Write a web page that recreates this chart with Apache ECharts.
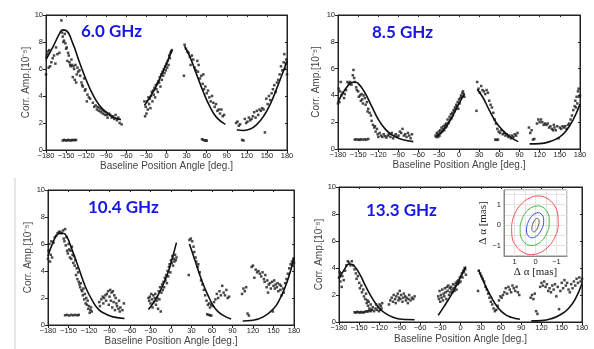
<!DOCTYPE html>
<html>
<head>
<meta charset="utf-8">
<script src="https://cdn.jsdelivr.net/npm/echarts@6/dist/echarts.min.js"></script>
<style>
  html, body { margin: 0; padding: 0; background: #fff; }
  #chart { width: 594px; height: 349px; }
</style>
</head>
<body>
<div id="chart"></div>
<script>
// panel labels and axis ticks
const freqLabels = ['6.0 GHz', '8.5 GHz', '10.4 GHz', '13.3 GHz'];
const angleTicks = [-180, -150, -120, -90, -60, -30, 0, 30, 60, 90, 120, 150, 180];
const ampTicks = [0, 2, 4, 6, 8, 10];
const insetTicks = [-1, 0, 1];

// observed correlated amplitude, [angle, amp]
const obs60 = [
  [-180,5.6],[-179,6.9],[-178,7.1],[-177,7.3],[-176,6.1],[-175,7.4],[-174,6.2],[-172,6.5],[-170,6.8],[-168,7.0],[-166,6.4],[-165,7.6],[-163,7.1],[-160,7.2],
  [-157,9.6],[-156,8.7],[-155,8.4],[-154,8.0],[-153,8.1],[-152,8.6],[-151,7.9],[-150,7.5],[-149,7.6],[-148,6.6],[-147,7.2],[-146,7.0],[-145,6.5],[-144,6.3],
  [-143,6.2],[-142,6.7],[-141,6.3],[-140,5.4],[-139,6.2],[-138,6.0],[-137,5.2],[-136,6.3],[-135,5.0],[-134,5.6],[-133,6.1],[-132,5.8],[-130,5.9],[-129,5.5],
  [-127,5.0],[-126,4.8],[-125,4.7],[-123,5.3],[-122,4.4],[-121,4.5],[-119,3.6],[-118,4.1],[-116,3.9],[-114,3.8],[-110,3.5],[-108,3.2],[-106,3.3],[-104,3.0],
  [-103,3.2],[-101,2.9],[-100,3.1],[-98,2.8],[-97,3.0],[-95,2.7],[-94,2.9],[-92,2.6],[-91,2.8],[-89,2.6],[-88,2.4],[-86,2.7],[-84,2.6],[-82,2.4],[-80,2.5],
  [-78,2.3],[-76,2.6],[-74,2.2],[-72,2.4],[-70,2.0],[-67,1.9],
  [-155,0.7],[-153,0.75],[-151,0.72],[-149,0.7],[-147,0.75],[-145,0.72],[-143,0.7],[-141,0.75],[-139,0.72],[-137,0.75],[-135,0.74],
  [-33,3.6],[-32,2.5],[-31,3.2],[-30,2.7],[-29,3.6],[-28,3.0],[-27,3.9],[-26,3.4],[-25,3.8],[-24,3.1],[-23,4.0],[-22,4.3],[-21,3.6],[-20,4.4],[-19,4.1],
  [-18,4.6],[-17,3.9],[-16,4.8],[-15,4.5],[-14,4.9],[-13,4.3],[-12,5.1],[-11,5.0],[-10,5.4],[-9,4.7],[-8,5.6],[-7,5.2],[-6,5.8],[-5,5.5],[-4,6.0],[-3,5.7],
  [-2,6.2],[-1,5.9],[0,6.4],[1,6.1],[2,6.6],[3,6.3],[4,7.0],[5,6.8],[6,7.2],[7,7.3],[8,7.4],
  [26,5.5],[27,7.8],[29,7.5],[31,7.3],[33,7.2],[35,6.9],[36,6.3],[38,7.0],[40,6.7],[42,6.1],[44,5.9],[46,6.6],[47,5.8],[48,6.3],[50,5.3],[52,5.5],[54,4.9],
  [55,5.6],[56,4.5],[58,4.7],[60,4.2],[62,4.4],[64,3.9],[66,3.6],[68,4.0],[70,3.5],[72,3.2],[74,3.4],[76,2.9],[78,3.0],[80,2.7],[82,3.0],[84,2.5],[86,2.6],
  [53,0.8],[55,0.75],[57,0.7],[59,0.72],[60,0.68],
  [104,2.0],[106,2.1],[108,1.8],[110,1.9],[113,0.75],[115,0.7],[117,2.3],[119,2.0],[121,2.1],[123,2.4],[125,2.2],[127,2.3],[129,2.5],[131,2.8],[133,2.4],
  [135,2.9],[137,2.6],[139,3.0],[141,2.9],[143,3.1],[145,3.0],[147,1.3],[149,3.8],[151,3.4],[153,4.0],[155,3.7],[157,4.2],[159,4.5],[161,4.8],[163,4.3],
  [165,5.0],[167,5.2],[169,5.6],[171,6.2],[173,5.9],[175,6.5],[176,7.1],[177,6.0],[178,6.4],[179,6.7],[180,5.6]
];
const obs85 = [
  [-180,3.4],[-179,4.5],[-178,3.5],[-177,4.3],[-176,5.0],[-175,4.0],[-173,4.2],[-171,3.8],[-170,4.1],[-168,4.4],[-166,5.0],[-164,4.9],[-162,5.0],[-160,4.8],
  [-158,5.5],[-157,5.9],[-156,5.3],[-155,5.0],[-153,4.6],[-152,4.4],[-150,4.3],[-149,3.9],[-147,4.0],[-146,3.6],[-145,4.1],[-144,3.7],[-143,3.4],[-142,4.0],
  [-140,3.8],[-139,3.3],[-137,3.5],[-136,2.8],[-135,3.0],[-133,2.7],[-131,2.5],[-130,2.1],[-128,1.8],[-126,1.6],[-125,1.7],[-124,1.3],[-122,1.5],[-121,1.1],
  [-120,0.9],[-118,1.2],[-116,1.0],[-114,0.9],[-112,1.1],[-110,0.95],[-108,0.85],[-106,1.0],[-104,1.1],[-102,0.9],[-100,1.2],[-98,0.8],[-96,1.0],[-94,1.1],
  [-92,0.9],[-90,1.0],[-88,1.3],[-86,1.2],[-84,1.5],[-82,1.0],[-80,1.1],[-78,0.9],[-76,1.2],[-74,1.0],[-72,0.8],[-70,1.1],
  [-155,0.7],[-153,0.72],[-150,0.7],[-148,0.68],[-146,0.72],[-143,0.7],[-140,0.72],[-138,0.7],[-135,0.75],
  [-35,1.0],[-34,0.9],[-33,1.2],[-32,1.1],[-31,0.9],[-30,1.3],[-29,1.0],[-28,1.4],[-27,1.2],[-26,1.6],[-25,1.3],[-24,1.5],[-23,1.7],[-22,1.4],[-21,1.8],
  [-20,1.6],[-19,1.9],[-18,1.7],[-17,2.2],[-16,1.9],[-15,2.0],[-14,2.4],[-13,2.2],[-12,2.6],[-11,2.3],[-10,2.7],[-9,2.5],[-8,2.9],[-7,2.8],[-6,3.1],[-5,3.0],
  [-4,3.3],[-3,3.2],[-2,3.5],[-1,3.0],[0,3.7],[1,3.4],[2,3.8],[3,4.0],[4,3.9],[5,4.2],[6,4.3],[7,4.1],[8,3.9],
  [26,2.85],[27,5.0],[29,4.5],[31,4.2],[33,4.7],[35,4.4],[37,4.3],[39,4.1],[41,4.4],[43,4.2],[45,3.6],[47,3.3],[49,3.1],[51,2.7],[53,2.2],[55,1.9],[57,1.5],
  [59,1.3],[61,1.2],[63,1.4],[65,1.1],[67,1.2],[69,1.0],[71,1.1],[73,0.9],[75,1.0],[77,0.8],[79,1.0],[81,0.9],[83,1.1],[85,1.0],[87,1.2],
  [54,0.7],[56,0.68],[58,0.7],
  [104,1.6],[106,1.2],[108,1.4],[110,0.7],[112,0.75],[116,1.9],[118,2.2],[120,2.0],[122,2.2],[124,2.0],[126,1.8],[128,1.9],[130,1.8],[132,1.9],[134,1.6],
  [136,1.7],[138,1.5],[140,1.4],[141,1.8],[142,1.6],[144,1.4],[146,1.7],[148,0.8],[150,1.6],[152,1.5],[154,1.7],[156,1.6],[158,1.7],[160,1.5],[162,1.8],
  [164,1.9],[166,2.2],[168,2.5],[170,2.9],[172,3.2],[173,3.6],[174,3.1],[175,3.9],[176,3.4],[177,4.3],[178,4.5],[179,3.9],[180,4.0]
];
const obs104 = [
  [-180,4.9],[-179,5.5],[-178,6.0],[-177,4.7],[-176,5.2],[-175,6.2],[-174,5.0],[-172,6.1],[-170,6.5],[-168,6.6],[-166,6.8],[-164,6.9],[-162,6.9],[-160,6.8],
  [-158,7.0],[-157,6.4],[-156,6.2],[-155,7.1],[-154,5.9],[-153,6.5],[-152,5.5],[-151,5.3],[-150,6.0],[-149,5.6],[-148,5.0],[-147,5.5],[-146,4.9],[-145,5.8],
  [-144,5.2],[-143,4.6],[-142,5.1],[-141,4.4],[-140,4.8],[-139,3.7],[-138,4.2],[-137,3.4],[-136,3.9],[-135,3.2],[-134,3.0],[-133,2.8],[-132,3.1],[-131,2.6],
  [-130,2.5],[-129,2.2],[-128,2.7],[-127,1.9],[-126,2.3],[-125,1.6],[-124,2.0],[-123,1.5],[-122,1.8],[-121,1.2],[-120,1.4],[-119,0.9],[-118,1.1],[-117,1.3],
  [-116,1.0],
  [-155,0.72],[-152,0.75],[-149,0.7],[-146,0.75],[-143,0.72],[-140,0.75],[-137,0.72],[-135,0.75],
  [-105,1.7],[-104,1.4],[-102,1.9],[-100,2.1],[-99,1.6],[-98,2.0],[-96,2.2],[-95,1.8],[-94,2.3],[-92,2.5],[-91,1.5],[-90,2.1],[-89,2.6],[-88,1.8],[-87,2.4],
  [-86,1.3],[-85,2.5],[-84,1.7],[-83,2.2],[-82,1.1],[-81,2.0],[-80,1.6],[-79,1.4],[-77,1.2],[-76,1.8],[-75,1.0],[-74,1.3],[-71,1.1],[-69,1.6],
  [-33,2.0],[-32,1.8],[-31,2.1],[-30,1.6],[-29,2.3],[-28,1.9],[-27,1.3],[-26,2.2],[-25,1.7],[-24,2.0],[-23,2.3],[-22,1.5],[-21,1.8],[-20,2.0],[-19,1.2],
  [-18,2.5],[-17,1.9],[-16,2.8],[-15,1.0],[-14,2.4],[-13,3.0],[-12,2.6],[-11,3.2],[-10,2.8],[-9,3.5],[-8,3.3],[-7,3.7],[-6,3.1],[-5,4.0],[-4,3.6],[-3,4.3],
  [-2,4.5],[-1,3.9],[0,4.8],[1,4.6],[2,5.1],[3,4.4],[4,4.9],[5,4.7],[6,5.2],[7,4.8],[8,5.0],
  [26,3.7],[27,6.3],[29,6.4],[31,6.2],[33,5.8],[34,5.4],[36,5.0],[37,4.7],[39,4.3],[40,4.5],[42,3.9],[44,3.3],[46,3.0],[48,2.6],[50,2.2],[52,1.8],[54,1.5],
  [56,1.6],[57,1.3],[59,1.5],[61,1.4],[63,1.7],[65,1.9],[67,2.3],[69,2.0],[71,2.5],[73,2.2],[75,2.9],[77,2.4],[79,2.2],[81,2.6],[83,2.0],[85,2.1],
  [53,0.8],[55,0.75],[57,0.72],[59,0.7],
  [104,2.3],[106,2.7],[108,2.5],[110,2.8],[112,0.85],[114,0.7],[118,4.3],[120,4.4],[122,3.5],[124,4.1],[126,3.9],[128,4.0],[130,3.8],[132,3.6],[134,3.9],
  [136,3.4],[137,3.2],[138,3.7],[140,2.8],[141,3.3],[142,2.4],[143,3.0],[145,3.1],[146,2.7],[148,3.2],[149,1.0],[150,2.9],[151,3.3],[152,2.7],[153,3.0],
  [155,2.8],[156,3.1],[157,2.5],[159,3.0],[160,2.6],[161,2.9],[162,2.2],[164,2.7],[165,2.4],[167,3.1],[169,3.4],[171,3.8],[173,4.2],[175,4.5],[177,4.7],
  [178,4.4],[179,4.9],[180,4.6]
];
const obs133 = [
  [-180,3.3],[-179,3.7],[-178,3.0],[-177,3.6],[-176,2.6],[-175,3.4],[-173,3.1],[-171,3.8],[-169,4.2],[-167,4.5],[-165,4.4],[-163,4.2],[-161,4.5],[-159,4.2],
  [-157,3.9],[-155,3.6],[-154,3.2],[-152,3.4],[-150,2.9],[-149,2.5],[-147,2.7],[-146,2.2],[-144,2.4],[-143,1.9],[-141,1.7],[-140,2.1],[-139,1.4],[-138,1.6],
  [-137,1.2],[-136,1.5],[-135,1.0],[-133,1.3],[-132,0.9],[-130,1.1],[-128,0.8],[-126,1.0],[-125,1.3],[-124,0.9],[-122,1.1],[-121,0.8],[-120,1.3],[-119,0.9],
  [-118,1.2],[-117,1.0],[-116,1.4],
  [-157,0.72],[-155,0.7],[-153,0.75],[-151,0.72],[-149,0.7],[-147,0.74],[-145,0.7],[-143,0.72],[-141,0.76],[-139,0.8],[-137,0.78],[-135,0.85],[-133,0.8],[-131,0.9],
  [-106,1.3],[-104,1.6],[-102,1.8],[-100,1.5],[-99,2.0],[-97,1.7],[-96,1.4],[-95,1.9],[-93,2.1],[-92,1.6],[-91,1.8],[-90,2.3],[-89,1.7],[-88,2.0],[-86,1.5],
  [-85,1.8],[-84,2.1],[-82,1.9],[-81,1.6],[-80,1.8],[-78,1.4],[-77,1.7],[-76,2.0],[-74,1.6],[-72,1.8],[-70,1.7],[-68,1.9],
  [-33,1.9],[-32,1.7],[-31,2.3],[-30,1.5],[-29,2.0],[-28,1.8],[-27,2.4],[-26,1.6],[-25,2.1],[-24,1.9],[-23,2.5],[-22,2.2],[-21,1.7],[-20,2.6],[-19,2.3],
  [-18,2.7],[-17,2.0],[-16,2.5],[-15,2.2],[-14,2.6],[-13,2.4],[-12,2.2],[-11,2.8],[-10,2.5],[-9,2.3],[-8,2.7],[-7,2.9],[-6,2.4],[-5,3.0],[-4,2.8],[-3,3.1],
  [-2,2.9],[-1,3.3],[0,3.0],[1,3.4],[2,3.6],[3,3.3],[4,3.8],[5,3.7],[6,4.0],[7,3.9],[8,3.5],
  [26,2.3],[27,3.8],[29,3.6],[31,3.4],[33,3.2],[35,3.0],[37,2.6],[39,2.4],[41,2.1],[43,1.8],[45,1.5],[47,1.3],[49,1.0],[51,0.8],[53,0.9],[55,1.2],[57,1.6],
  [59,1.9],[61,1.8],[63,2.0],[65,2.2],[67,2.5],[69,2.1],[71,2.6],[73,2.4],[75,2.2],[77,2.7],[79,2.5],[81,2.3],[83,2.6],[85,2.2],[87,2.0],
  [104,1.8],[106,2.0],[108,1.7],[110,2.1],[112,0.8],[114,0.6],[118,2.6],[120,2.9],[122,2.7],[124,3.0],[126,2.6],[128,2.8],[130,2.3],[132,2.5],[134,2.2],
  [136,2.7],[138,2.4],[140,2.8],[142,1.9],[144,2.6],[146,0.95],[148,2.3],[150,2.9],[152,2.5],[154,3.1],[156,2.7],[158,2.9],[160,2.4],[162,2.2],[164,2.8],
  [166,2.5],[168,3.0],[170,2.7],[172,3.2],[174,2.9],[176,3.3],[178,3.0],[180,3.2]
];

// model curves, four segments per band
const model60 = [
  [[-180,6.7],[-170,7.6],[-160,8.6],[-155,8.9],[-150,8.85],[-140,7.9],[-130,6.5],[-120,5.2],[-110,4.1],[-100,3.3],[-90,2.8],[-80,2.45],[-68,2.25]],
  [[-33,3.3],[-20,4.3],[-10,5.3],[0,6.4],[8,7.4]],
  [[27,7.7],[35,6.9],[45,5.6],[55,4.3],[65,3.2],[75,2.4],[88,1.9]],
  [[105,1.5],[115,1.45],[125,1.55],[135,1.9],[145,2.5],[155,3.4],[165,4.6],[175,5.9],[180,6.6]]
];
const model85 = [
  [[-180,3.5],[-170,4.4],[-160,4.95],[-155,5.0],[-150,4.9],[-140,4.2],[-130,3.2],[-120,2.2],[-110,1.5],[-100,1.05],[-90,0.8],[-80,0.65],[-68,0.55]],
  [[-33,0.95],[-25,1.3],[-15,2.0],[-5,2.9],[0,3.4],[8,4.1]],
  [[27,4.45],[35,3.9],[45,2.9],[55,2.0],[65,1.4],[75,0.95],[88,0.55]],
  [[105,0.38],[120,0.4],[135,0.55],[150,0.9],[160,1.4],[170,2.2],[180,3.35]]
];
const model104 = [
  [[-180,5.1],[-172,6.2],[-165,6.75],[-158,6.8],[-153,6.6],[-145,5.6],[-135,4.2],[-125,2.8],[-115,1.8],[-105,1.1],[-95,0.8],[-85,0.6],[-68,0.48]],
  [[-33,1.15],[-25,1.7],[-15,2.6],[-5,3.8],[0,4.6],[8,6.1]],
  [[27,6.0],[35,4.8],[45,3.3],[55,2.1],[65,1.2],[75,0.75],[88,0.45]],
  [[105,0.3],[120,0.35],[135,0.6],[150,1.2],[160,2.0],[170,3.2],[180,5.0]]
];
const model133 = [
  [[-180,3.2],[-172,3.9],[-165,4.3],[-160,4.25],[-150,3.6],[-140,2.6],[-130,1.7],[-120,1.0],[-110,0.6],[-100,0.35],[-90,0.22],[-80,0.18],[-68,0.17]],
  [[-33,0.5],[-25,1.1],[-15,1.9],[-5,2.8],[0,3.3],[8,4.1]],
  [[27,3.85],[35,2.9],[45,1.9],[55,1.1],[65,0.6],[75,0.35],[88,0.2]],
  [[105,0.08],[120,0.1],[135,0.25],[150,0.6],[160,1.0],[170,1.7],[180,2.85]]
];

// inset: position error contours [mas], read around each ring
const contourRed = [[1.14,-0.01],[1.0,0.53],[0.7,0.99],[0.31,1.3],[-0.13,1.41],[-0.54,1.3],[-0.87,0.99],[-1.06,0.53],[-1.08,-0.01],
  [-0.94,-0.55],[-0.65,-1.01],[-0.25,-1.32],[0.19,-1.43],[0.6,-1.32],[0.93,-1.01],[1.12,-0.55],[1.14,-0.01]];
const contourGreen = [[0.73,-0.03],[0.62,0.34],[0.43,0.65],[0.17,0.86],[-0.1,0.93],[-0.36,0.86],[-0.55,0.65],[-0.65,0.34],[-0.65,-0.03],
  [-0.54,-0.4],[-0.35,-0.71],[-0.09,-0.92],[0.18,-0.99],[0.44,-0.92],[0.63,-0.71],[0.73,-0.4],[0.73,-0.03]];
const contourBlue = [[0.4,-0.01],[0.32,0.22],[0.19,0.42],[0.03,0.55],[-0.13,0.6],[-0.26,0.55],[-0.36,0.42],[-0.39,0.22],[-0.37,-0.01],
  [-0.28,-0.24],[-0.15,-0.44],[0.01,-0.57],[0.17,-0.62],[0.3,-0.57],[0.4,-0.44],[0.43,-0.24],[0.4,-0.01]];
const contourGray = [[0.15,0.0],[0.1,0.14],[0.04,0.24],[-0.03,0.31],[-0.09,0.33],[-0.14,0.29],[-0.17,0.23],[-0.17,0.12],[-0.15,0.0],
  [-0.1,-0.14],[-0.04,-0.24],[0.03,-0.31],[0.09,-0.33],[0.14,-0.29],[0.17,-0.23],[0.17,-0.12],[0.15,0.0]];

const panels = [
  { obs: obs60, model: model60, box: { left: 46, top: 15, width: 241, height: 135 }, yGap: 15, xGap: 10, label: [81, 32] },
  { obs: obs85, model: model85, box: { left: 338, top: 15, width: 242, height: 134 }, yGap: 17, xGap: 11, label: [372, 33] },
  { obs: obs104, model: model104, box: { left: 48, top: 190, width: 246, height: 135 }, yGap: 11, xGap: 11, label: [88, 208] },
  { obs: obs133, model: model133, box: { left: 339, top: 187, width: 243, height: 135 }, yGap: 13, xGap: 12, label: [366, 211] }
];

const minus = v => String(v).replace('-', '\u2212');
const axisFont = 'Liberation Sans, Arial, sans-serif';

const grids = [], xAxes = [], yAxes = [], series = [], graphics = [];

panels.forEach((p, i) => {
  grids.push(Object.assign({ show: true, borderColor: '#222', borderWidth: 1, backgroundColor: 'transparent' }, p.box));
  const xi = xAxes.length, yi = yAxes.length;
  const xRange = { min: angleTicks[0], max: angleTicks[angleTicks.length - 1], interval: angleTicks[1] - angleTicks[0] };
  const yRange = { min: ampTicks[0], max: ampTicks[ampTicks.length - 1], interval: ampTicks[1] - ampTicks[0] };
  xAxes.push(Object.assign({
    gridIndex: i, type: 'value', position: 'bottom',
    name: 'Baseline Position Angle [deg.]', nameLocation: 'middle', nameGap: p.xGap,
    nameTextStyle: { fontSize: 10, color: '#444', fontFamily: axisFont },
    axisLine: { onZero: false, lineStyle: { color: '#222' } },
    axisTick: { length: 3, lineStyle: { color: '#222' } },
    axisLabel: { fontSize: 7.5, color: '#222', margin: 2, fontFamily: axisFont, formatter: minus },
    splitLine: { show: false }
  }, xRange));
  xAxes.push(Object.assign({
    gridIndex: i, type: 'value', position: 'top',
    axisLine: { onZero: false, lineStyle: { color: '#222' } },
    axisTick: { inside: true, length: 2, lineStyle: { color: '#222' } },
    axisLabel: { show: false }, splitLine: { show: false }
  }, xRange));
  yAxes.push(Object.assign({
    gridIndex: i, type: 'value', position: 'left',
    name: 'Corr. Amp.[10\u207B\u2075]', nameLocation: 'middle', nameGap: p.yGap, nameRotate: 90,
    nameTextStyle: { fontSize: 10, color: '#444', fontFamily: axisFont },
    axisLine: { onZero: false, lineStyle: { color: '#222' } },
    axisTick: { length: 3, lineStyle: { color: '#222' } },
    axisLabel: { fontSize: 7.5, color: '#222', margin: 3, fontFamily: axisFont },
    splitLine: { show: false }
  }, yRange));
  yAxes.push(Object.assign({
    gridIndex: i, type: 'value', position: 'right',
    axisLine: { onZero: false, lineStyle: { color: '#222' } },
    axisTick: { inside: true, length: 2, lineStyle: { color: '#222' } },
    axisLabel: { show: false }, splitLine: { show: false }
  }, yRange));

  series.push({
    type: 'scatter', xAxisIndex: xi, yAxisIndex: yi, data: p.obs,
    symbol: 'rect', symbolSize: 2.5, itemStyle: { color: '#1a1a1a' }, silent: true
  });
  p.model.forEach(seg => {
    series.push({
      type: 'line', xAxisIndex: xi, yAxisIndex: yi, data: seg, smooth: true,
      showSymbol: false, lineStyle: { color: '#111', width: 1.6 }, silent: true
    });
  });

  graphics.push({
    type: 'text', x: p.label[0], y: p.label[1], z: 10,
    style: { text: freqLabels[i], fill: '#1717e8', font: 'bold 17px Lato, "Open Sans", sans-serif', textVerticalAlign: 'middle' }
  });
});

// inset
const ig = grids.length;
grids.push({ left: 504, top: 190, width: 63, height: 66, show: true, backgroundColor: '#fff', borderColor: '#888', borderWidth: 1 });
const insetLabel = v => (insetTicks.includes(v) ? minus(v) : '');
const ixi = xAxes.length, iyi = yAxes.length;
xAxes.push({
  gridIndex: ig, type: 'value', inverse: true, min: -1.5, max: 1.5, interval: 0.5,
  name: '\u0394 \u03B1 [mas]', nameLocation: 'middle', nameGap: 11,
  nameTextStyle: { fontSize: 11, color: '#222', fontFamily: 'Liberation Serif, DejaVu Serif, serif' },
  axisLine: { onZero: false, lineStyle: { color: '#888' } }, axisTick: { show: false },
  axisLabel: { fontSize: 7.5, color: '#222', margin: 2, formatter: insetLabel, fontFamily: axisFont },
  splitLine: { lineStyle: { color: '#e4e4e4', width: 1 } }
});
yAxes.push({
  gridIndex: ig, type: 'value', min: -1.5, max: 1.7, interval: 0.5,
  name: '\u0394 \u03B1 [mas]', nameLocation: 'middle', nameGap: 8, nameRotate: 90,
  nameTextStyle: { fontSize: 11, color: '#222', fontFamily: 'Liberation Serif, DejaVu Serif, serif' },
  axisLine: { onZero: false, lineStyle: { color: '#888' } }, axisTick: { show: false },
  axisLabel: { fontSize: 7.5, color: '#222', margin: 3, formatter: insetLabel, fontFamily: axisFont },
  splitLine: { lineStyle: { color: '#e4e4e4', width: 1 } }
});
[[contourRed, '#ef5555'], [contourGreen, '#3cb83c'], [contourBlue, '#3a4ef0'], [contourGray, '#555']].forEach(([c, col]) => {
  series.push({
    type: 'line', xAxisIndex: ixi, yAxisIndex: iyi, data: c, smooth: 0.4,
    showSymbol: false, lineStyle: { color: col, width: 1 }, silent: true
  });
});

// faint separator line at left of lower-left panel
graphics.push({ type: 'line', shape: { x1: 15, y1: 178, x2: 15, y2: 349 }, style: { stroke: '#cfcfcf', lineWidth: 1 } });

const chart = echarts.init(document.getElementById('chart'), null, { renderer: 'canvas' });
chart.setOption({
  animation: false,
  backgroundColor: '#fff',
  grid: grids,
  xAxis: xAxes,
  yAxis: yAxes,
  series: series,
  graphic: graphics
});
</script>
</body>
</html>
